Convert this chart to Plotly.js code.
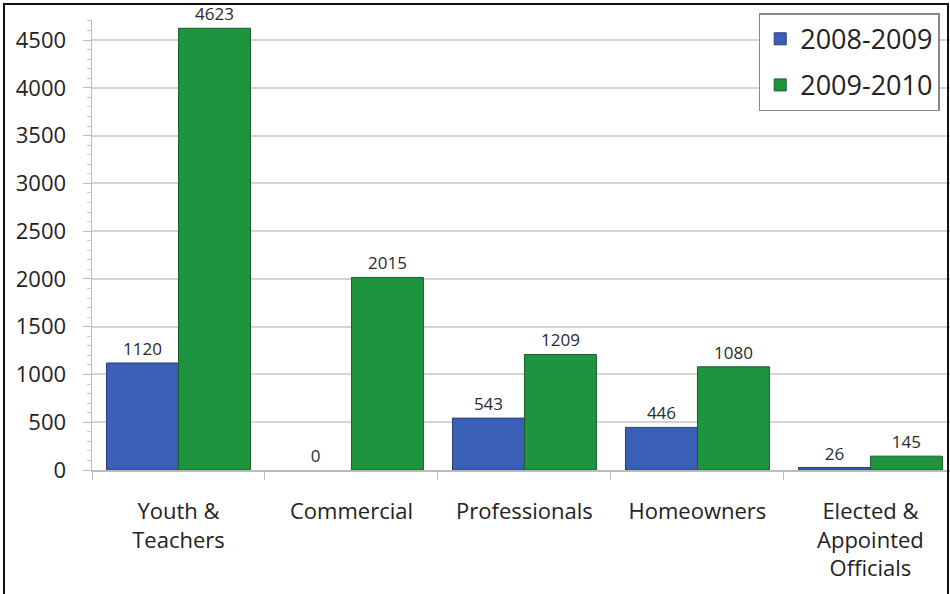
<!DOCTYPE html>
<html>
<head>
<meta charset="utf-8">
<script src="https://cdn.plot.ly/plotly-3.0.1.min.js"></script>
<style>
  html, body { margin: 0; padding: 0; background: #fff; }
  #wrap { position: relative; width: 950px; height: 594px; overflow: hidden; }
  #chart { position: absolute; left: 0; top: 0; width: 950px; height: 594px; }
  #frame { position: absolute; left: 3px; top: 3px; width: 942px; height: 600px;
           border: 2px solid #111; pointer-events: none; }
</style>
</head>
<body>
<div id="wrap">
  <div id="chart"></div>
  <div id="frame"></div>
</div>
<script>
const categories = ["Youth &<br>Teachers", "Commercial", "Professionals", "Homeowners", "Elected &<br>Appointed<br>Officials"];
const seriesNames = ["2008-2009", "2009-2010"];
const values2008 = [1120, 0, 543, 446, 26];
const values2009 = [4623, 2015, 1209, 1080, 145];
const yTickVals = [0, 500, 1000, 1500, 2000, 2500, 3000, 3500, 4000, 4500];

const labelFont = { family: "Open Sans, Liberation Sans, sans-serif", size: 17, color: "#2a2a2a" };

const traces = [
  {
    type: "bar", name: seriesNames[0], x: categories, y: values2008,
    marker: { color: "#3a5fb6", line: { color: "#2a3f70", width: values2008.map(v => (v === 0 ? 0 : 1)) } },
    text: values2008.map(String), textposition: "outside", cliponaxis: false,
    textfont: labelFont, legendgroup: "a", hoverinfo: "x+y"
  },
  {
    type: "bar", name: seriesNames[1], x: categories, y: values2009,
    marker: { color: "#1f943f", line: { color: "#1a5c2c", width: values2009.map(v => (v === 0 ? 0 : 1)) } },
    text: values2009.map(String), textposition: "outside", cliponaxis: false,
    textfont: labelFont, legendgroup: "b", hoverinfo: "x+y"
  }
];

const layout = {
  width: 950, height: 594,
  margin: { l: 92, r: 0, t: 20, b: 124 },
  paper_bgcolor: "#fff", plot_bgcolor: "#fff",
  barmode: "group", bargap: 0.168, bargroupgap: 0,
  font: { family: "Open Sans, Liberation Sans, sans-serif", color: "#222" },
  showlegend: true,
  legend: {
    x: 0.988, xanchor: "right", y: 1.015, yanchor: "top",
    bgcolor: "#fff", bordercolor: "#888", borderwidth: 1.5,
    font: { size: 27, color: "#222" },
    traceorder: "grouped", tracegroupgap: 8
  },
  xaxis: {
    type: "category", range: [-0.5, 4.46],
    showgrid: false, showline: true, linecolor: "#bbb", linewidth: 1.5,
    ticks: "outside", tickson: "boundaries", ticklen: 8, tickcolor: "#bbb",
    ticklabelstandoff: 21,
    tickfont: { size: 22, color: "#222" }, fixedrange: true
  },
  yaxis: {
    range: [0, 4710], tickvals: yTickVals, ticktext: yTickVals.map(String),
    showgrid: true, gridcolor: "#d4d4d4", gridwidth: 2,
    showline: true, linecolor: "#bbb", linewidth: 1.5,
    ticks: "outside", ticklen: 8, tickcolor: "#bbb",
    ticklabelstandoff: 12,
    minor: { dtick: 100, ticks: "outside", ticklen: 4, tickcolor: "#ccc", showgrid: false },
    zeroline: false,
    tickfont: { size: 22, color: "#222" }, fixedrange: true
  }
};

Plotly.newPlot("chart", traces, layout, { displayModeBar: false, staticPlot: true });
</script>
</body>
</html>
